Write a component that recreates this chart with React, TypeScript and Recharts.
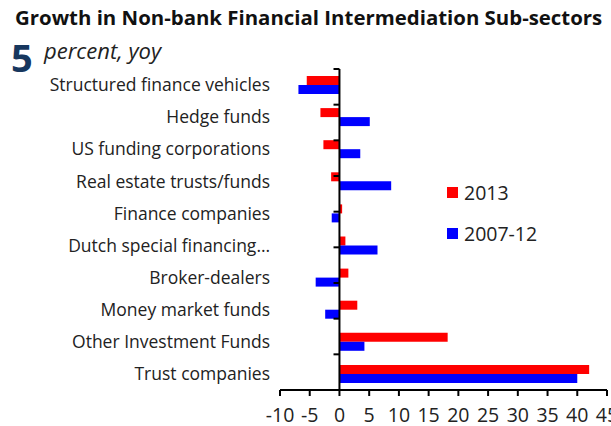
import React from "react";
import { BarChart, Bar, XAxis, YAxis, ReferenceLine } from "recharts";

const categories = [
  "Structured finance vehicles",
  "Hedge funds",
  "US funding corporations",
  "Real estate trusts/funds",
  "Finance companies",
  "Dutch special financing…",
  "Broker-dealers",
  "Money market funds",
  "Other Investment Funds",
  "Trust companies",
];
const values2013 = [-5.5, -3.2, -2.7, -1.4, 0.45, 1.0, 1.5, 3.0, 18.2, 42.0];
const values2007_12 = [-6.9, 5.1, 3.5, 8.7, -1.3, 6.4, -4.0, -2.4, 4.2, 40.0];
const xTicks = [-10, -5, 0, 5, 10, 15, 20, 25, 30, 35, 40, 45];
const boundaries = [0, 1, 2, 3, 4, 5, 6, 7, 8, 9];
const seriesNames = ["2013", "2007-12"];
const seriesColors = ["#ff0000", "#0000ff"];

const data = categories.map((name, i) => ({
  name,
  y2013: values2013[i],
  y0712: values2007_12[i],
}));

const FONT = "'Open Sans', 'Noto Sans', sans-serif";

export default function App() {
  return (
    <div style={{ position: "absolute", left: 0, top: 0, width: 611, height: 426, overflow: "hidden", background: "#fff" }}>
      <div style={{ position: "absolute", left: 15, top: 3, fontFamily: FONT, fontWeight: 700, fontSize: 20.4, color: "#111", whiteSpace: "nowrap", letterSpacing: 0 }}>
        Growth in Non-bank Financial Intermediation Sub-sectors
      </div>
      <div style={{ position: "absolute", left: 11, top: 38, fontFamily: FONT, fontWeight: 700, fontSize: 38, color: "#17375e", lineHeight: "38px" }}>
        5
      </div>
      <div style={{ position: "absolute", left: 44, top: 35, fontFamily: FONT, fontStyle: "italic", fontSize: 22, color: "#222", whiteSpace: "nowrap" }}>
        percent, yoy
      </div>
      <BarChart
        width={611}
        height={426}
        data={data}
        layout="vertical"
        margin={{ top: 69, right: 4, bottom: 0, left: 0 }}
        barGap={0}
        barSize={9}
        style={{ position: "absolute", left: 0, top: 0 }}
      >
        <XAxis
          type="number"
          domain={[-10, 45]}
          ticks={xTicks}
          interval={0}
          allowDataOverflow
          height={36}
          axisLine={{ stroke: "#000", strokeWidth: 2 }}
          tickLine={{ stroke: "#000", strokeWidth: 2 }}
          tickSize={6}
          tickMargin={12}
          tick={{ fontFamily: FONT, fontSize: 19.5, fill: "#222" }}
        />
        <YAxis
          type="category"
          dataKey="name"
          width={280}
          axisLine={false}
          tickLine={false}
          tickSize={0}
          tickMargin={10}
          interval={0}
          tick={{ fontFamily: FONT, fontSize: 17.5, fill: "#222" }}
        />
        <YAxis yAxisId="grid" type="number" domain={[0, 10]} reversed hide />
        <ReferenceLine x={0} stroke="#000" strokeWidth={2} />
        {boundaries.map((b) => (
          <ReferenceLine
            key={b}
            yAxisId="grid"
            segment={[{ x: -1, y: b }, { x: 0, y: b }]}
            stroke="#000"
            strokeWidth={2}
          />
        ))}
        <Bar dataKey="y2013" name={seriesNames[0]} fill={seriesColors[0]} isAnimationActive={false} />
        <Bar dataKey="y0712" name={seriesNames[1]} fill={seriesColors[1]} isAnimationActive={false} />
      </BarChart>
      <div style={{ position: "absolute", left: 447, top: 180, fontFamily: FONT, fontSize: 19.5, color: "#222" }}>
        {seriesNames.map((n, i) => (
          <div key={n} style={{ display: "flex", alignItems: "center", height: 24, marginTop: i === 0 ? 0 : 17 }}>
            <span style={{ width: 11, height: 11, background: seriesColors[i], display: "inline-block", marginRight: 6 }} />
            {n}
          </div>
        ))}
      </div>
    </div>
  );
}
